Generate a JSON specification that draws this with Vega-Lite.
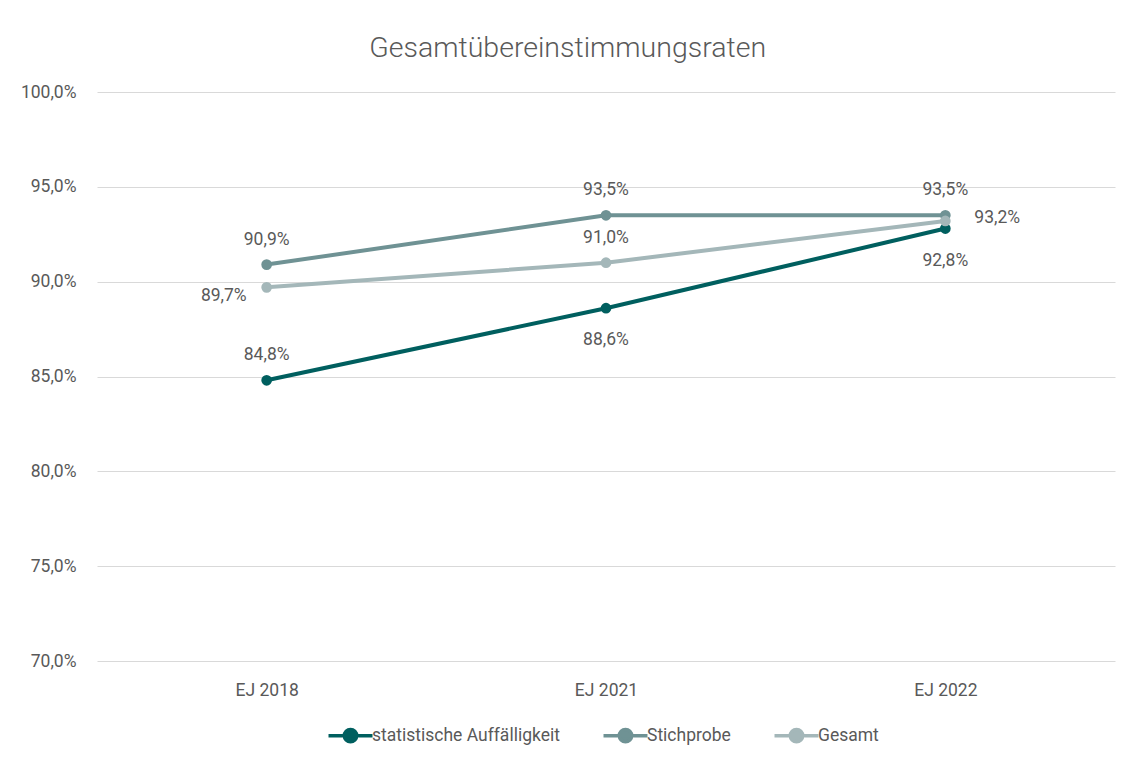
{
  "$schema": "https://vega.github.io/schema/vega-lite/v6.json",
  "autosize": {"type": "fit", "contains": "padding"},
  "width": 1131,
  "height": 763,
  "padding": {"left": 20, "top": 33, "right": 16, "bottom": 14},
  "background": "white",
  "config": {
    "locale": {"number": {"decimal": ",", "thousands": ".", "grouping": [3], "currency": ["", " €"]}},
    "font": "Roboto",
    "view": {"stroke": null},
    "legend": {"layout": {"anchor": "middle"}},
    "title": {"fontSize": 28.5, "fontWeight": 300, "color": "#595959", "offset": 21, "font": "Roboto"}
  },
  "title": {"text": "Gesamtübereinstimmungsraten", "anchor": "middle", "frame": "bounds"},
  "data": {
    "values": [
      {"series": "statistische Auffälligkeit", "year": "EJ 2018", "rate": 0.848},
      {"series": "statistische Auffälligkeit", "year": "EJ 2021", "rate": 0.886},
      {"series": "statistische Auffälligkeit", "year": "EJ 2022", "rate": 0.928},
      {"series": "Stichprobe", "year": "EJ 2018", "rate": 0.909},
      {"series": "Stichprobe", "year": "EJ 2021", "rate": 0.935},
      {"series": "Stichprobe", "year": "EJ 2022", "rate": 0.935},
      {"series": "Gesamt", "year": "EJ 2018", "rate": 0.897},
      {"series": "Gesamt", "year": "EJ 2021", "rate": 0.910},
      {"series": "Gesamt", "year": "EJ 2022", "rate": 0.932}
    ]
  },
  "encoding": {
    "x": {
      "field": "year", "type": "ordinal", "sort": null,
      "scale": {"paddingInner": 0, "paddingOuter": 0.5},
      "axis": {"title": null, "labelAngle": 0, "labelFontSize": 17.5, "labelColor": "#595959", "labelPadding": 20, "ticks": false, "domain": false, "grid": false}
    },
    "y": {
      "field": "rate", "type": "quantitative",
      "scale": {"domain": [0.7, 1.0], "nice": false, "zero": false},
      "axis": {"title": null, "format": ".1%", "values": [0.7, 0.75, 0.8, 0.85, 0.9, 0.95, 1.0], "labelFontSize": 17.5, "labelColor": "#595959", "labelPadding": 21, "ticks": false, "domain": false, "gridColor": "#d9d9d9", "gridWidth": 1.2}
    }
  },
  "layer": [
    {
      "mark": {"type": "line", "strokeWidth": 4, "point": {"size": 115, "filled": true, "opacity": 1}},
      "encoding": {
        "color": {
          "field": "series", "type": "nominal",
          "scale": {"domain": ["statistische Auffälligkeit", "Stichprobe", "Gesamt"], "range": ["#005f5f", "#6f9294", "#a4b7b9"]},
          "legend": {
            "title": null, "orient": "bottom", "direction": "horizontal",
            "labelFontSize": 17.5, "labelColor": "#595959", "labelOffset": 5, "labelLimit": 400,
            "symbolType": "M-1.5,0H1.5M0.42,0A0.42,0.42,0,1,1,-0.42,0A0.42,0.42,0,1,1,0.42,0Z",
            "symbolSize": 860, "symbolStrokeWidth": 3.5, "columnPadding": 36, "offset": 20,
            "encode": {"symbols": {"update": {"fill": {"scale": "color", "field": "value"}, "fillOpacity": {"value": 1}, "opacity": {"value": 1}}}}
          }
        }
      }
    },
    {
      "transform": [{"filter": "datum.series === 'Stichprobe' || (datum.series === 'Gesamt' && datum.year === 'EJ 2021') || (datum.series === 'statistische Auffälligkeit' && datum.year === 'EJ 2018')"}],
      "mark": {"type": "text", "dy": -25, "fontSize": 17.5, "color": "#595959", "baseline": "middle"},
      "encoding": {"text": {"field": "rate", "type": "quantitative", "format": ".1%"}}
    },
    {
      "transform": [{"filter": "datum.series === 'statistische Auffälligkeit' && datum.year !== 'EJ 2018'"}],
      "mark": {"type": "text", "dy": 32, "fontSize": 17.5, "color": "#595959", "baseline": "middle"},
      "encoding": {"text": {"field": "rate", "type": "quantitative", "format": ".1%"}}
    },
    {
      "transform": [{"filter": "datum.series === 'Gesamt' && datum.year === 'EJ 2018'"}],
      "mark": {"type": "text", "dx": -20, "dy": 9, "align": "right", "fontSize": 17.5, "color": "#595959", "baseline": "middle"},
      "encoding": {"text": {"field": "rate", "type": "quantitative", "format": ".1%"}}
    },
    {
      "transform": [{"filter": "datum.series === 'Gesamt' && datum.year === 'EJ 2022'"}],
      "mark": {"type": "text", "dx": 29, "dy": -3, "align": "left", "fontSize": 17.5, "color": "#595959", "baseline": "middle"},
      "encoding": {"text": {"field": "rate", "type": "quantitative", "format": ".1%"}}
    }
  ]
}
